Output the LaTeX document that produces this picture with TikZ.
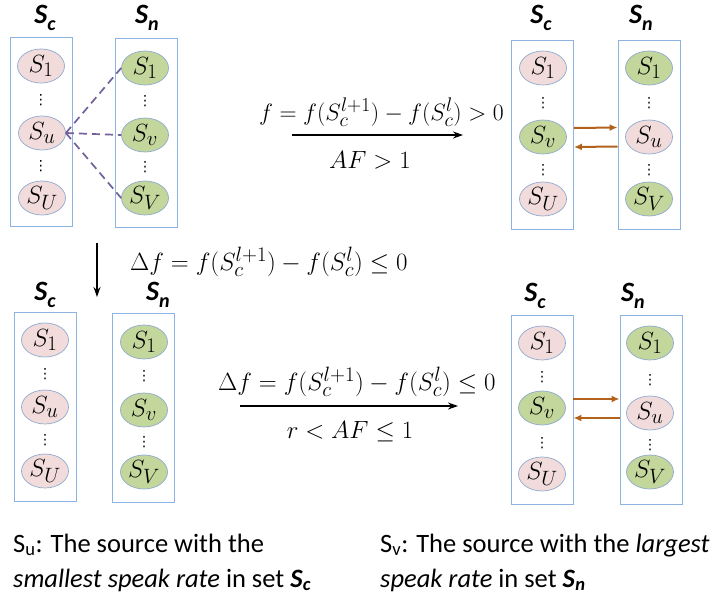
\documentclass[tikz,border=0pt]{standalone}
\usepackage{fontspec}
\usepackage{graphicx}
\newfontfamily\calib{Carlito}
\newfontfamily\symfont{DejaVu Sans}
\usetikzlibrary{shapes.geometric,arrows.meta}
\definecolor{setblue}{HTML}{8DB3E2}
\definecolor{pinkfill}{HTML}{F2DCDB}
\definecolor{greenfill}{HTML}{C3D69B}
\definecolor{edgeblue}{HTML}{8EA9CF}
\definecolor{linkpurple}{HTML}{72609A}
\definecolor{swapbrown}{HTML}{B3621E}
\newcommand\setname[1]{S\raisebox{-7pt}{\fontsize{20}{20}\selectfont #1}}
\tikzset{
  setbox/.style={draw=setblue, line width=0.9pt, minimum width=62pt, minimum height=189pt, inner sep=0pt},
  src/.style={ellipse, draw=edgeblue, line width=0.7pt, minimum width=47pt, minimum height=34pt, inner sep=0pt, font=\Huge},
  pinksrc/.style={src, fill=pinkfill},
  greensrc/.style={src, fill=greenfill},
  vdot/.style={inner sep=0pt, font=\symfont\fontsize{14}{14}\selectfont},
  setlabel/.style={font=\calib\bfseries\itshape\fontsize{28}{28}\selectfont, inner sep=0pt},
  link/.style={draw=linkpurple, line width=1.7pt, dash pattern=on 8pt off 5pt},
  swap/.style={draw=swapbrown, line width=2pt, -{Latex[length=8pt,width=7pt]}},
  transit/.style={line width=1.4pt, -{Stealth[length=10pt,width=7pt]}},
  cond/.style={font=\Huge, inner sep=0pt},
  note/.style={font=\calib\fontsize{26.5}{26.5}\selectfont, anchor=base west, inner sep=0pt}
}
\begin{document}
\begin{tikzpicture}[x=1pt,y=-1pt]
\useasboundingbox (0,0) rectangle (716,595);

% ---------- initial state (top left) ----------
\node[setlabel] (tlc) at (45,18) {\setname{c}};
\node[setlabel] (tln) at (147,18) {\setname{n}};
\node[setbox] (tlL) at (41,131.5) {};
\node[setbox] (tlR) at (146,132.5) {};
\node[pinksrc] (tla1) at (41,66) {$S_1$};
\node[vdot] at (41,100) {⋮};
\node[pinksrc] (tla2) at (42,133) {$S_u$};
\node[vdot] at (41,166) {⋮};
\node[pinksrc] (tla3) at (42,198) {$S_U$};
\node[greensrc] (tlb1) at (145,68) {$S_1$};
\node[vdot] at (145,101) {⋮};
\node[greensrc] (tlb2) at (145,135) {$S_v$};
\node[vdot] at (145,167) {⋮};
\node[greensrc] (tlb3) at (145,198) {$S_V$};
\draw[link] (tla2.east) -- (tlb1.west);
\draw[link] (tla2.east) -- (tlb2.west);
\draw[link] (tla2.east) -- (tlb3.west);

% ---------- swap when the gain is positive (top right) ----------
\node[setlabel] (trc) at (541,18) {\setname{c}};
\node[setlabel] (trn) at (641,18) {\setname{n}};
\node[setbox] (trL) at (542.5,135) {};
\node[setbox] (trR) at (649,134.5) {};
\node[pinksrc] (tra1) at (543,68) {$S_1$};
\node[vdot] at (543,103) {⋮};
\node[greensrc] (tra2) at (543,137) {$S_v$};
\node[vdot] at (543,170) {⋮};
\node[pinksrc] (tra3) at (543,199) {$S_U$};
\node[greensrc] (trb1) at (649,68) {$S_1$};
\node[vdot] at (649,103) {⋮};
\node[pinksrc] (trb2) at (649,137) {$S_u$};
\node[vdot] at (649,170) {⋮};
\node[greensrc] (trb3) at (649,199) {$S_V$};
\draw[swap] ([yshift=7pt]trL.east) -- ([yshift=7pt]trR.west);
\draw[swap] ([yshift=-12pt]trR.west) -- ([yshift=-12pt]trL.east);

% transition to the top right (the label's left end is cut by the clip)
\coordinate (ta) at (292,135);
\coordinate (tb) at (463,135);
\draw[transit] (ta) -- (tb);
\begin{scope}
  \clip (260,88) rectangle (515,132);
  \node[cond, anchor=east] (tcond) at (504,112) {\scalebox{0.95}{$\Delta f = f(S_c^{l+1}) - f(S_c^{l}) > 0$}};
\end{scope}
\node[cond] (taf) at (370,160) {$AF > 1$};

% transition downwards
\coordinate (da) at (97,243);
\coordinate (db) at (97,297);
\draw[transit] (da) -- (db);
\node[cond, anchor=west] (dcond) at (130,262) {$\Delta f = f(S_c^{l+1}) - f(S_c^{l}) \le 0$};

% ---------- state after a non-positive gain (bottom left) ----------
\node[setlabel] (blc) at (45,295) {\setname{c}};
\node[setlabel] (bln) at (158,295) {\setname{n}};
\node[setbox] (blL) at (45,406.5) {};
\node[setbox] (blR) at (143.5,407.5) {};
\node[pinksrc] (bla1) at (45,340) {$S_1$};
\node[vdot] at (45,374) {⋮};
\node[pinksrc] (bla2) at (45,407) {$S_u$};
\node[vdot] at (45,440) {⋮};
\node[pinksrc] (bla3) at (45,471) {$S_U$};
\node[greensrc] (blb1) at (144,342) {$S_1$};
\node[vdot] at (144,376) {⋮};
\node[greensrc] (blb2) at (144,410) {$S_v$};
\node[vdot] at (144,442) {⋮};
\node[greensrc] (blb3) at (144,472) {$S_V$};

% ---------- swap with probability (bottom right) ----------
\node[setlabel] (brc) at (535,296) {\setname{c}};
\node[setlabel] (brn) at (633,296) {\setname{n}};
\node[setbox] (brL) at (542,410) {};
\node[setbox] (brR) at (651,410) {};
\node[pinksrc] (bra1) at (542,343) {$S_1$};
\node[vdot] at (542,377) {⋮};
\node[greensrc] (bra2) at (542,408) {$S_v$};
\node[vdot] at (542,443) {⋮};
\node[pinksrc] (bra3) at (542,474) {$S_U$};
\node[greensrc] (brb1) at (650,343) {$S_1$};
\node[vdot] at (650,380) {⋮};
\node[pinksrc] (brb2) at (650,413) {$S_u$};
\node[vdot] at (650,445) {⋮};
\node[greensrc] (brb3) at (650,472) {$S_V$};
\draw[swap] ([yshift=11pt]brL.east) -- ([yshift=11pt]brR.west);
\draw[swap] ([yshift=-8pt]brR.west) -- ([yshift=-8pt]brL.east);

% transition to the bottom right
\coordinate (ba) at (240,406);
\coordinate (bb) at (458,406);
\draw[transit] (ba) -- (bb);
\node[cond, anchor=west] (bcond) at (218,382) {$\Delta f = f(S_c^{l+1}) - f(S_c^{l}) \le 0$};
\node[cond] (baf) at (350,432) {$r < AF \le 1$};

% ---------- legend ----------
\node[note] (nu1) at (13,552) {S\textsubscript{u}: The source with the};
\node[note] (nu2) at (13,587) {\textit{smallest speak rate} in set \textbf{\textit{S}\textsubscript{\textit{c}}}};
\node[note] (nv1) at (380,552) {S\textsubscript{v}: The source with the \textit{largest}};
\node[note] (nv2) at (380,587) {\textit{speak rate} in set \textbf{\textit{S}\textsubscript{\textit{n}}}};
\end{tikzpicture}
\end{document}
